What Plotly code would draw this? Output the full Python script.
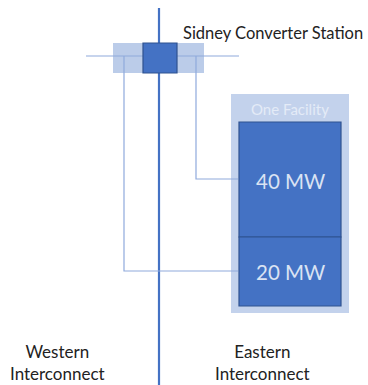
import plotly.graph_objects as go

# diagram content
station_name = "Sidney Converter Station"
facility_name = "One Facility"
unit_labels = ["40 MW", "20 MW"]
region_labels = ["Western<br>Interconnect", "Eastern<br>Interconnect"]

W, H = 368, 385
DARK = "#4472C4"
EDGE = "#2F528F"
LIGHT = "#B4C7E7"
FONT = "Lato"

fig = go.Figure()

# main DC line and tie line
fig.add_trace(go.Scatter(x=[159, 159], y=[8, 385], mode="lines",
                         line=dict(color=DARK, width=2.2), hoverinfo="skip"))
fig.add_trace(go.Scatter(x=[86, 239], y=[56, 56], mode="lines",
                         line=dict(color="#8FAADC", width=1.2), hoverinfo="skip"))

# feeders to the units
fig.add_trace(go.Scatter(x=[124, 124, 238], y=[56, 271, 271], mode="lines",
                         line=dict(color="#8FAADC", width=1.2), hoverinfo="skip"))
fig.add_trace(go.Scatter(x=[196, 196, 238], y=[56, 179, 179], mode="lines",
                         line=dict(color="#8FAADC", width=1.2), hoverinfo="skip"))

shapes = [
    # converter station
    dict(type="rect", x0=113, x1=204, y0=43, y1=73, fillcolor=LIGHT,
         opacity=0.9, line=dict(width=0), layer="below"),
    dict(type="rect", x0=143, x1=177, y0=43, y1=73, fillcolor=DARK,
         line=dict(color=EDGE, width=1.2)),
    # facility
    dict(type="rect", x0=231, x1=349, y0=94, y1=313, fillcolor=LIGHT,
         opacity=0.8, line=dict(width=0), layer="below"),
    dict(type="rect", x0=239, x1=341, y0=122, y1=237, fillcolor=DARK,
         line=dict(color=EDGE, width=1.2)),
    dict(type="rect", x0=239, x1=341, y0=237, y1=306, fillcolor=DARK,
         line=dict(color=EDGE, width=1.2)),
]
fig.update_layout(shapes=shapes)

ann = [
    dict(x=273, y=33, text=station_name, font=dict(size=16.5, color="#222")),
    dict(x=290, y=109, text=facility_name, font=dict(size=15, color="#E4EBF7")),
    dict(x=290, y=181, text=unit_labels[0], font=dict(size=20.5, color="#DAE3F3")),
    dict(x=290, y=272, text=unit_labels[1], font=dict(size=20.5, color="#DAE3F3")),
    dict(x=57, y=362, text=region_labels[0], font=dict(size=17, color="#222")),
    dict(x=262, y=362, text=region_labels[1], font=dict(size=17, color="#222")),
]
for a in ann:
    fig.add_annotation(xref="x", yref="y", showarrow=False, **a)

fig.update_layout(
    width=W, height=H, margin=dict(l=0, r=0, t=0, b=0),
    plot_bgcolor="white", paper_bgcolor="white", showlegend=False,
    font=dict(family=FONT),
    xaxis=dict(range=[0, W], visible=False, fixedrange=True),
    yaxis=dict(range=[H, 0], visible=False, fixedrange=True),
)

fig.write_html("out.html", config={"displayModeBar": False},
               post_script="document.body.style.margin='0';")
